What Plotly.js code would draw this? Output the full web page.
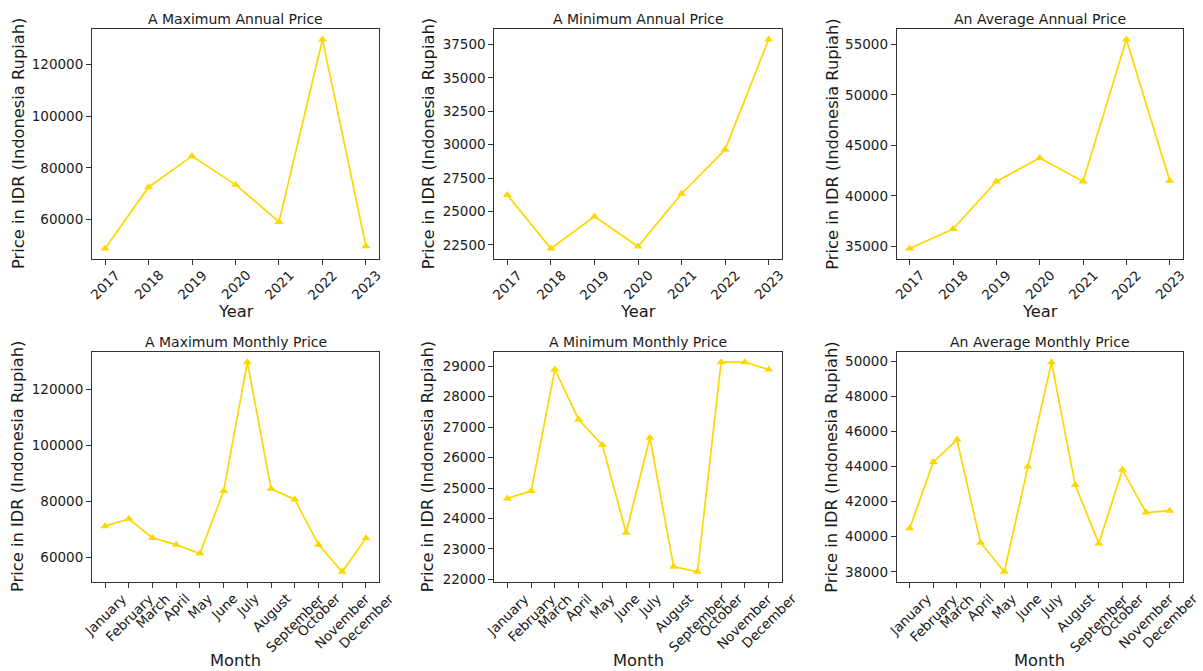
<!DOCTYPE html>
<html>
<head>
<meta charset="utf-8">
<script src="https://cdn.plot.ly/plotly-3.0.1.min.js"></script>
<style>html,body{margin:0;padding:0;background:#fff;}#chart{width:1203px;height:671px;}</style>
</head>
<body>
<div id="chart"></div>
<script>
// ---- data ----
const years = ['2017','2018','2019','2020','2021','2022','2023'];
const months = ['January','February','March','April','May','June','July','August','September','October','November','December'];
const maxAnnual = [48800, 72500, 84500, 73500, 59100, 129600, 49700];
const minAnnual = [26230, 22230, 24630, 22380, 26330, 29630, 37880];
const avgAnnual = [34800, 36720, 41440, 43750, 41440, 55470, 41500];
const maxMonthly = [71200, 73800, 67000, 64600, 61400, 83700, 129700, 84500, 80700, 64600, 54900, 66900];
const minMonthly = [24660, 24900, 28890, 27250, 26410, 23530, 26650, 22420, 22250, 29130, 29130, 28890];
const avgMonthly = [40480, 44270, 45530, 39660, 38000, 44010, 49960, 42960, 39620, 43820, 41380, 41490];
const titles = ['A Maximum Annual Price','A Minimum Annual Price','An Average Annual Price',
                'A Maximum Monthly Price','A Minimum Monthly Price','An Average Monthly Price'];
const yTitle = 'Price in IDR (Indonesia Rupiah)';

// ---- layout geometry ----
const W = 1203, H = 671;
const cols = [[92, 379], [494.3, 781.7], [896.7, 1182.7]];
const rows = [[29, 259], [351.7, 582.3]];
const dticks = [20000, 2500, 5000, 20000, 1000, 2000];
const ylabelOffset = [74, 66, 65];
const FONT = 'DejaVu Sans, Liberation Sans, sans-serif';
const TXT = '#1a1a1a';
const GOLD = '#FFD700';

const panels = [
  {x: years, y: maxAnnual, xl: 'Year'},
  {x: years, y: minAnnual, xl: 'Year'},
  {x: years, y: avgAnnual, xl: 'Year'},
  {x: months, y: maxMonthly, xl: 'Month'},
  {x: months, y: minMonthly, xl: 'Month'},
  {x: months, y: avgMonthly, xl: 'Month'}
];

const data = [];
const layout = {
  width: W, height: H,
  margin: {l: 0, r: 0, t: 0, b: 0},
  paper_bgcolor: '#fff', plot_bgcolor: '#fff',
  showlegend: false,
  font: {family: FONT, color: TXT, size: 13.5},
  annotations: []
};

panels.forEach((p, i) => {
  const r = Math.floor(i / 3), c = i % 3;
  const n = i + 1;
  const xa = 'x' + (n === 1 ? '' : n), ya = 'y' + (n === 1 ? '' : n);
  data.push({
    type: 'scatter', mode: 'lines+markers',
    x: p.x, y: p.y, xaxis: xa, yaxis: ya,
    line: {color: GOLD, width: 1.7},
    marker: {symbol: 'triangle-up', size: 8, color: GOLD},
    cliponaxis: false
  });
  const ymin = Math.min(...p.y), ymax = Math.max(...p.y), span = ymax - ymin;
  const nx = p.x.length;
  const xpad = (nx - 1) * 0.05;
  const xDom = [cols[c][0] / W, cols[c][1] / W];
  const yDom = [1 - rows[r][1] / H, 1 - rows[r][0] / H];
  layout['xaxis' + (n === 1 ? '' : n)] = {
    domain: xDom, anchor: ya, type: 'category',
    categoryorder: 'array', categoryarray: p.x,
    range: [-xpad, nx - 1 + xpad],
    showgrid: false, zeroline: false,
    showline: true, mirror: true, linecolor: '#333', linewidth: 1,
    ticks: 'outside', ticklen: 5, tickcolor: '#333', tickwidth: 1,
    showticklabels: false, fixedrange: true
  };
  layout['yaxis' + (n === 1 ? '' : n)] = {
    domain: yDom, anchor: xa,
    range: [ymin - 0.05 * span, ymax + 0.05 * span],
    dtick: dticks[i], tick0: 0, tickformat: 'd',
    showgrid: false, zeroline: false,
    showline: true, mirror: true, linecolor: '#333', linewidth: 1,
    ticks: 'outside', ticklen: 5, tickcolor: '#333', tickwidth: 1,
    ticklabelstandoff: 0,
    tickfont: {family: FONT, size: 13.5, color: TXT},
    automargin: false, fixedrange: true
  };
  // rotated category labels, centred under each tick
  p.x.forEach((lab, k) => {
    layout.annotations.push({
      xref: xa, yref: ya + ' domain', x: k, y: 0,
      text: lab, showarrow: false, textangle: -45,
      xanchor: 'center', yanchor: 'top', yshift: -7,
      borderpad: 0,
      font: {family: FONT, size: 13.5, color: TXT}
    });
  });
  // subplot title
  layout.annotations.push({
    xref: 'paper', yref: 'paper',
    x: (xDom[0] + xDom[1]) / 2, y: 1 - (rows[r][0] - 10) / H,
    text: titles[i], showarrow: false, xanchor: 'center', yanchor: 'middle',
    font: {family: FONT, size: 14, color: TXT}
  });
  // x axis label
  layout.annotations.push({
    xref: 'paper', yref: 'paper',
    x: (xDom[0] + xDom[1]) / 2,
    y: 1 - (r === 0 ? 311 : 660) / H,
    text: p.xl, showarrow: false, xanchor: 'center', yanchor: 'middle',
    font: {family: FONT, size: 16.3, color: TXT}
  });
  // y axis label
  layout.annotations.push({
    xref: 'paper', yref: 'paper',
    x: (cols[c][0] - ylabelOffset[c]) / W,
    y: (yDom[0] + yDom[1]) / 2,
    text: yTitle, showarrow: false, textangle: -90,
    xanchor: 'center', yanchor: 'middle',
    font: {family: FONT, size: 16.3, color: TXT}
  });
});

Plotly.newPlot('chart', data, layout, {staticPlot: true, displayModeBar: false});
</script>
</body>
</html>
